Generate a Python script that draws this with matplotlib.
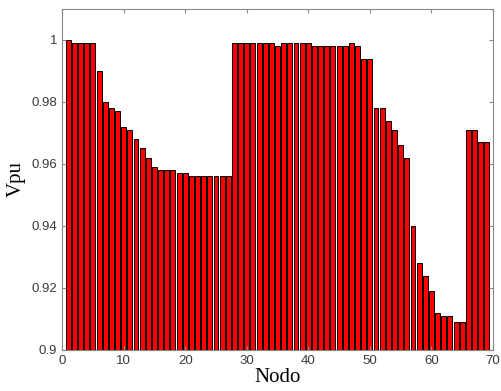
import matplotlib
matplotlib.use('Agg')
import matplotlib.pyplot as plt
import numpy as np

nodo = np.arange(1, 70)
vpu = [1.000, 0.999, 0.999, 0.999, 0.999, 0.990, 0.980, 0.978, 0.977, 0.972,
       0.971, 0.968, 0.965, 0.962, 0.959, 0.958, 0.958, 0.958, 0.957, 0.957,
       0.956, 0.956, 0.956, 0.956, 0.956, 0.956, 0.956, 0.999, 0.999, 0.999,
       0.999, 0.999, 0.999, 0.999, 0.998, 0.999, 0.999, 0.999, 0.999, 0.999,
       0.998, 0.998, 0.998, 0.998, 0.998, 0.998, 0.999, 0.998, 0.994, 0.994,
       0.978, 0.978, 0.974, 0.971, 0.966, 0.962, 0.940, 0.928, 0.924, 0.919,
       0.912, 0.911, 0.911, 0.909, 0.909, 0.971, 0.971, 0.967, 0.967]
yticks = [0.9, 0.92, 0.94, 0.96, 0.98, 1.0]
ytick_labels = ['0.9', '0.92', '0.94', '0.96', '0.98', '1']
xticks = [0, 10, 20, 30, 40, 50, 60, 70]

fig = plt.figure(figsize=(5.01, 3.91), dpi=100)
ax = fig.add_axes([0.124, 0.105, 0.86, 0.872])

ax.bar(nodo, np.array(vpu) - 0.9, bottom=0.9, width=0.8,
       color='#ff0000', edgecolor='black', linewidth=0.7)

ax.set_xlim(0, 70)
ax.set_ylim(0.9, 1.01)
ax.set_xticks(xticks)
ax.set_xticklabels([str(t) for t in xticks])
ax.set_yticks(yticks)
ax.set_yticklabels(ytick_labels)

for s in ax.spines.values():
    s.set_color('#888888')
    s.set_linewidth(0.8)
ax.tick_params(direction='in', top=True, right=True, length=3,
               color='#888888', labelcolor='#3a3a3a', labelsize=9.5)
for lab in ax.get_xticklabels() + ax.get_yticklabels():
    lab.set_family('Liberation Sans')

ax.set_xlabel('Nodo', fontsize=15, family='Liberation Serif', labelpad=1)
ax.set_ylabel('Vpu', fontsize=15, family='Liberation Serif', labelpad=4)

plt.savefig('out.png', dpi=100)
